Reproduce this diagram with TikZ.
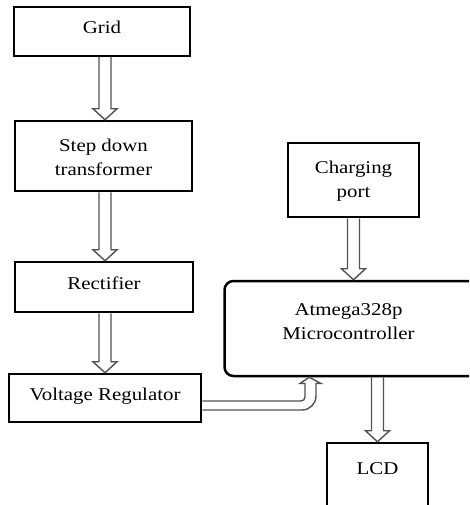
\documentclass[tikz,border=0pt]{standalone}
\usepackage{fontspec}
\setmainfont{Liberation Serif}[FakeStretch=1.16]
\usetikzlibrary{calc}
\newcommand{\blockdown}[2]{%
  \draw[blockarr] ($#1+(-6,0)$) -- ($#2+(-6,-11)$) -- ($#2+(-12,-11)$) -- #2
    -- ($#2+(12,-11)$) -- ($#2+(6,-11)$) -- ($#1+(6,0)$);}
\newcommand{\onelift}[2]{\raisebox{#1}[0pt][0pt]{#2}}
\newcommand{\twolift}[3]{\raisebox{#1}[0pt][0pt]{\begin{tabular}[t]{@{}c@{}}#2\\#3\end{tabular}}}
\begin{document}
\begin{tikzpicture}[x=1pt,y=-1pt,
  box/.style={draw=black, line width=2.5pt, inner sep=0pt,
    font=\fontsize{18}{24}\selectfont},
  blockarr/.style={draw=black!68, line width=1.4pt, line join=miter, fill=none}]
\clip (0,0) rectangle (469,505);
\useasboundingbox (0,0) rectangle (469,505);
\coordinate (colL) at (105,0);
\node[box, minimum width=176, minimum height=49] (grid) at (102,31.5) {\onelift{-2pt}{Grid}};
\node[box, minimum width=177, minimum height=70] (step) at (103.5,156) {\twolift{4.3pt}{Step down}{transformer}};
\node[box, minimum width=178, minimum height=50] (rect) at (104,287) {\onelift{-2pt}{Rectifier}};
\node[box, minimum width=192, minimum height=48] (vr) at (105,398) {\onelift{-2.7pt}{Voltage Regulator}};
\node[box, minimum width=131, minimum height=74] (charge) at (353.5,180) {\twolift{7pt}{Charging}{port}};
\node[box, rounded corners=9pt, minimum width=260, minimum height=95] (micro) at (354.5,328.5) {\hspace*{-12pt}\twolift{13.5pt}{Atmega328p}{Microcontroller}};
\node[box, minimum width=101, minimum height=90] (lcd) at (377.5,488) {\onelift{14pt}{LCD}};
\coordinate (vtip) at ($(micro.south west)+(86,0)$);
\blockdown{(grid.south -| colL)}{(step.north -| colL)}
\blockdown{(step.south -| colL)}{(rect.north -| colL)}
\blockdown{(rect.south -| colL)}{(vr.north -| colL)}
\blockdown{(charge.south)}{(micro.north -| charge.south)}
\blockdown{(micro.south -| lcd.north)}{(lcd.north)}
\draw[blockarr] ($(vr.east)+(0,3)$) -- (301,401)
  .. controls (303.2,401) and (305,399.2) .. (305,397) -- (305,383.5)
  -- (300,383.5) -- (vtip) -- (321,383.5) -- (316,383.5) -- (316,396)
  .. controls (316,403.7) and (309.7,410) .. (302,410) -- ($(vr.east)+(0,12)$);
\end{tikzpicture}
\end{document}
